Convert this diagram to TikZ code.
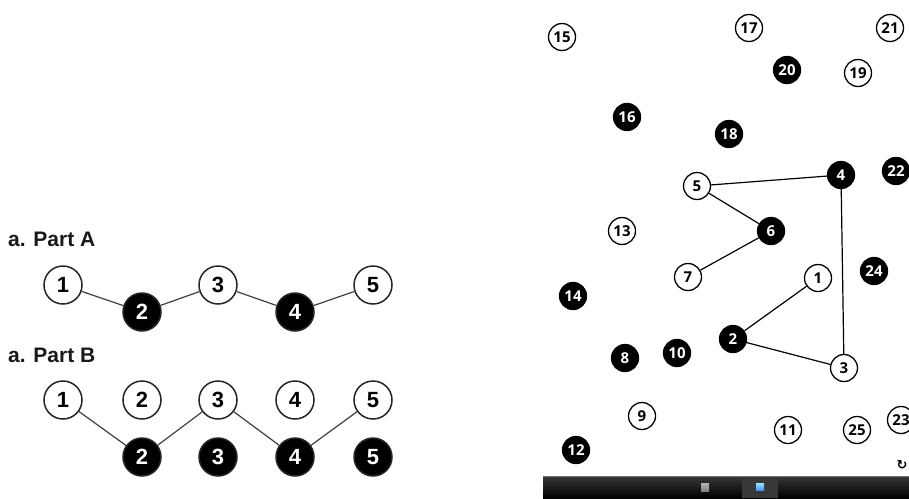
\documentclass[tikz,border=0pt]{standalone}
\usepackage{fontspec}
\setmainfont{Liberation Sans}
\newfontfamily\osans{Open Sans}
\newfontfamily\djv{DejaVu Sans}
\begin{document}
\begin{tikzpicture}[x=1pt,y=-1pt,
 pa/.style={circle,draw=black!85,line width=1.5pt,minimum size=38pt,inner sep=0pt,font=\fontsize{22}{22}\selectfont\bfseries},
 pw/.style={pa,fill=white,text=black},
 pb/.style={pa,fill=black,text=white},
 pe/.style={draw=black!75,line width=1.2pt},
 lbl/.style={anchor=base west,inner sep=0pt,text=black!90,font=\fontsize{21}{21}\selectfont\bfseries},
 sa/.style={circle,draw=black,line width=1.3pt,minimum size=27pt,inner sep=0pt,font=\osans\fontsize{15}{15}\selectfont\bfseries},
 sw/.style={sa,fill=white},
 sb/.style={sa,fill=black,text=white},
 se/.style={draw=black,line width=1.2pt}]
\useasboundingbox[fill=white] (0,0) rectangle (909,498);
% ---------- Part A ----------
\node[lbl] (la) at (8,246) {a. Part A};
\node[pw] (a1) at (63,285) {1};
\node[pb] (a2) at (142,312) {2};
\node[pw] (a3) at (218,285) {3};
\node[pb] (a4) at (295,312) {4};
\node[pw] (a5) at (373,285) {5};
\draw[pe] (a1)--(a2) (a2)--(a3) (a3)--(a4) (a4)--(a5);
% ---------- Part B ----------
\node[lbl] (lb) at (8,362) {a. Part B};
\node[pw] (b1) at (63,400) {1};
\node[pw] (b2) at (142,400) {2};
\node[pw] (b3) at (218,400) {3};
\node[pw] (b4) at (295,400) {4};
\node[pw] (b5) at (373,400) {5};
\node[pb] (c2) at (142,457) {2};
\node[pb] (c3) at (218,457) {3};
\node[pb] (c4) at (295,457) {4};
\node[pb] (c5) at (373,457) {5};
\draw[pe] (b1)--(c2) (c2)--(b3) (b3)--(c4) (c4)--(b5);
% ---------- Right screenshot ----------
\node[sw] (r15) at (562,37) {15};
\node[sw] (r17) at (749,28) {17};
\node[sw] (r21) at (890,28) {21};
\node[sb] (r20) at (787,70) {20};
\node[sw] (r19) at (858,73) {19};
\node[sb] (r16) at (627,117) {16};
\node[sb] (r18) at (729,134) {18};
\node[sb] (r4) at (841,175) {4};
\node[sb] (r22) at (896,171) {22};
\node[sw] (r5) at (697,186) {5};
\node[sw] (r13) at (622,231) {13};
\node[sb] (r6) at (771,231) {6};
\node[sb] (r24) at (874,271) {24};
\node[sw] (r7) at (688,277) {7};
\node[sw] (r1) at (818,278) {1};
\node[sb] (r14) at (573,296) {14};
\node[sb] (r2) at (733,339) {2};
\node[sb] (r8) at (625,358) {8};
\node[sb] (r10) at (677,353) {10};
\node[sw] (r3) at (844,368) {3};
\node[sw] (r9) at (642,416) {9};
\node[sw] (r11) at (788,430) {11};
\node[sw] (r25) at (857,430) {25};
\node[sw] (r23) at (901,420) {23};
\node[sb] (r12) at (576,450) {12};
\draw[se] (r5)--(r4) (r5)--(r6) (r6)--(r7) (r4)--(r3) (r1)--(r2) (r2)--(r3);
\node[inner sep=0pt,font=\djv\fontsize{13}{13}\selectfont\bfseries] (refresh) at (902,465) {↻};
% bottom bar
\shade[top color=black!78,bottom color=black] (543,476) rectangle (909,498);
\draw[black!55,line width=0.6pt] (543,476.3)--(909,476.3);
\fill[white!22!black] (742,477) rectangle (778,498);
\shade[top color=black!30,bottom color=black!50] (701,483) rectangle (709,491);
\shade[top color=blue!25!cyan!40,bottom color=blue!60!cyan!70] (756,483) rectangle (764,490);
\end{tikzpicture}
\end{document}
